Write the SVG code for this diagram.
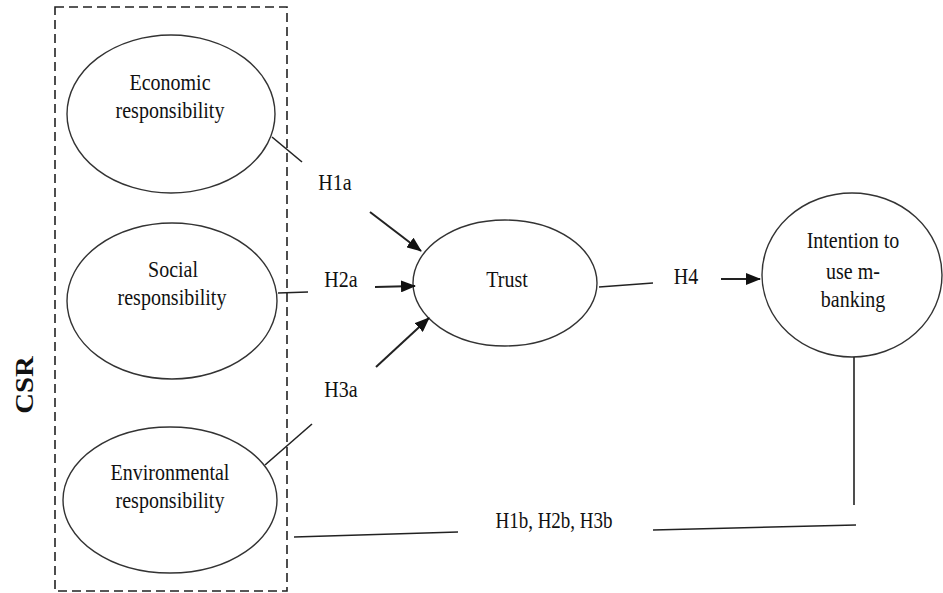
<svg xmlns="http://www.w3.org/2000/svg" width="943" height="593" viewBox="0 0 943 593">
<style>
.node ellipse{fill:#fff;stroke:#333;stroke-width:1.4}
text{font-family:"Liberation Serif","Times New Roman",serif;font-size:20px;fill:#111;text-anchor:middle}
.edge{stroke:#222;stroke-width:1.6;fill:none}
.arr{stroke-width:2;marker-end:url(#ah)}
</style>
<defs>
<marker id="ah" viewBox="0 0 15 12" refX="14" refY="6" markerWidth="15" markerHeight="12" markerUnits="userSpaceOnUse" orient="auto">
<path d="M0,0 L15,6 L0,12 Z" fill="#111"/>
</marker>
</defs>
<rect x="0" y="0" width="943" height="593" fill="#fff"/>
<g id="csr-group">
<rect x="55" y="7" width="232" height="584" fill="none" stroke="#222" stroke-width="1.6" stroke-dasharray="9,5"/>
<text transform="translate(33,385) rotate(-90) scale(1.15,1)" style="font-weight:bold;font-size:25px">CSR</text>
</g>
<g id="economic" class="node">
<ellipse cx="171" cy="114" rx="104" ry="79"/>
<text transform="translate(170,90) scale(1,1.13)">Economic</text>
<text transform="translate(170,118) scale(1,1.13)">responsibility</text>
</g>
<g id="social" class="node">
<ellipse cx="172" cy="301" rx="105" ry="78"/>
<text transform="translate(173,277) scale(1,1.13)">Social</text>
<text transform="translate(172,305) scale(1,1.13)">responsibility</text>
</g>
<g id="environmental" class="node">
<ellipse cx="170" cy="500" rx="107" ry="73"/>
<text transform="translate(170,480) scale(1,1.13)">Environmental</text>
<text transform="translate(170,508) scale(1,1.13)">responsibility</text>
</g>
<g id="trust" class="node">
<ellipse cx="505" cy="283" rx="92" ry="63"/>
<text transform="translate(507,287) scale(1,1.13)">Trust</text>
</g>
<g id="intention" class="node">
<ellipse cx="852" cy="275" rx="90" ry="82"/>
<text transform="translate(853,248) scale(1,1.13)">Intention to</text>
<text transform="translate(853,279) scale(1,1.13)">use m-</text>
<text transform="translate(853,307) scale(1,1.13)">banking</text>
</g>
<g id="connectors">
<line class="edge" x1="272" y1="137" x2="302" y2="162"/>
<line class="edge arr" x1="370" y1="212" x2="421" y2="251"/>
<line class="edge" x1="278" y1="293" x2="308" y2="292"/>
<line class="edge arr" x1="375" y1="287" x2="415" y2="286"/>
<line class="edge" x1="265" y1="465" x2="312" y2="424"/>
<line class="edge arr" x1="376" y1="367" x2="429" y2="318"/>
<line class="edge" x1="599" y1="287" x2="653" y2="283"/>
<line class="edge arr" x1="721" y1="279" x2="760" y2="279"/>
<line class="edge" x1="854" y1="357" x2="854" y2="505"/>
<line class="edge" x1="856" y1="525" x2="653" y2="530"/>
<line class="edge" x1="294" y1="537" x2="458" y2="532"/>
<text transform="translate(335,190) scale(1,1.13)">H1a</text>
<text transform="translate(341,287) scale(1,1.13)">H2a</text>
<text transform="translate(341,397) scale(1,1.13)">H3a</text>
<text transform="translate(686,284) scale(1,1.13)">H4</text>
<text transform="translate(554,528) scale(0.95,1.13)">H1b, H2b, H3b</text>
</g>
</svg>
